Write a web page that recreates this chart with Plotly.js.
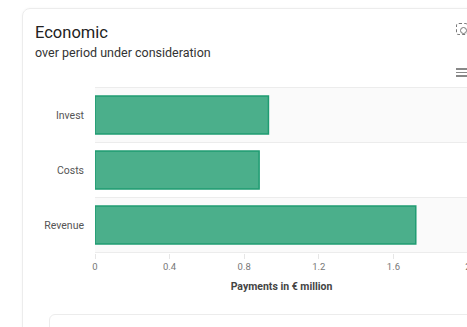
<!DOCTYPE html>
<html>
<head>
<meta charset="utf-8">
<script src="https://cdn.plot.ly/plotly-3.0.1.min.js"></script>
<style>
  html, body { margin: 0; padding: 0; width: 467px; height: 327px; overflow: hidden; background: #ffffff; }
  #card { position: absolute; left: 22px; top: 8px; width: 520px; height: 400px; border: 1px solid #ececec; border-radius: 8px; box-shadow: 0 0 3px rgba(0,0,0,0.04); }
  #inner { position: absolute; left: 49px; top: 314px; width: 500px; height: 100px; border: 1px solid #ececec; border-radius: 6px; }
  #chart { position: absolute; left: 0; top: 0; width: 520px; height: 327px; }
  .hb { position: absolute; left: 456px; width: 14px; height: 1.5px; background: #888; }
  #focus { position: absolute; left: 456px; top: 23px; width: 10px; height: 10px; border: 1.5px dashed #777; border-radius: 3px; }
  #focus-dot { position: absolute; left: 460px; top: 27px; width: 5px; height: 5px; border: 1.5px solid #777; border-radius: 50%; }
</style>
</head>
<body>
<div id="card"></div>
<div id="inner"></div>
<div id="chart"></div>
<div id="focus"></div>
<div id="focus-dot"></div>
<div class="hb" style="top:68px"></div>
<div class="hb" style="top:71.5px"></div>
<div class="hb" style="top:75px"></div>
<script>
const categories = ['Invest', 'Costs', 'Revenue'];
const payments = [0.93, 0.88, 1.72];
const tickValues = [0, 0.4, 0.8, 1.2, 1.6, 2];
const tickLabels = ['0', '0.4', '0.8', '1.2', '1.6', '2'];

const bandShapes = [];
categories.forEach((c, i) => {
  if (i % 2 === 0) {
    bandShapes.push({type: 'rect', xref: 'paper', yref: 'y', x0: 0, x1: 1, y0: i - 0.5, y1: i + 0.5,
      fillcolor: '#fafafa', line: {width: 0}, layer: 'below'});
  }
});
for (let i = 0; i <= categories.length; i++) {
  bandShapes.push({type: 'line', xref: 'paper', yref: 'y', x0: 0, x1: 1, y0: i - 0.5, y1: i - 0.5,
    line: {color: '#ececec', width: 1}, layer: 'below'});
}

const trace = {
  type: 'bar',
  orientation: 'h',
  y: categories,
  x: payments,
  marker: {color: '#4baf8b', line: {color: '#1f9c72', width: 1.5}},
  hoverinfo: 'none'
};

const layout = {
  width: 520, height: 327,
  margin: {l: 95, r: 52, t: 87, b: 74},
  paper_bgcolor: 'rgba(0,0,0,0)',
  plot_bgcolor: 'rgba(0,0,0,0)',
  font: {family: 'Roboto, "Noto Sans", sans-serif', color: '#666'},
  bargap: 0.31,
  showlegend: false,
  title: {
    text: 'Economic',
    xref: 'container', yref: 'container',
    x: 35 / 520, xanchor: 'left',
    y: 1 - 32 / 327, yanchor: 'middle',
    font: {family: 'Roboto, sans-serif', size: 16.5, color: '#222'}
  },
  annotations: [{
    text: 'over period under consideration',
    xref: 'paper', yref: 'paper',
    x: (33 - 95) / 373, xanchor: 'left',
    y: 1 + (87 - 52) / 166, yanchor: 'middle',
    showarrow: false,
    font: {family: 'Roboto, sans-serif', size: 12.5, color: '#333'}
  }],
  xaxis: {
    range: [0, 2],
    tickvals: tickValues,
    ticktext: tickLabels,
    showgrid: false,
    zeroline: false,
    showline: false,
    ticks: 'outside',
    ticklen: 5,
    tickcolor: '#e6e6e6',
    tickfont: {size: 9.5, color: '#777'},
    title: {text: 'Payments in € million', standoff: 11,
      font: {size: 10.5, color: '#444', family: 'Roboto, sans-serif', weight: 'bold'}},
    fixedrange: true
  },
  yaxis: {
    type: 'category',
    autorange: 'reversed',
    showgrid: false,
    zeroline: false,
    showline: false,
    ticks: '',
    ticklabelstandoff: 10,
    tickfont: {size: 10.5, color: '#555'},
    fixedrange: true
  },
  shapes: bandShapes
};

Plotly.newPlot('chart', [trace], layout, {displayModeBar: false, staticPlot: true});
</script>
</body>
</html>
